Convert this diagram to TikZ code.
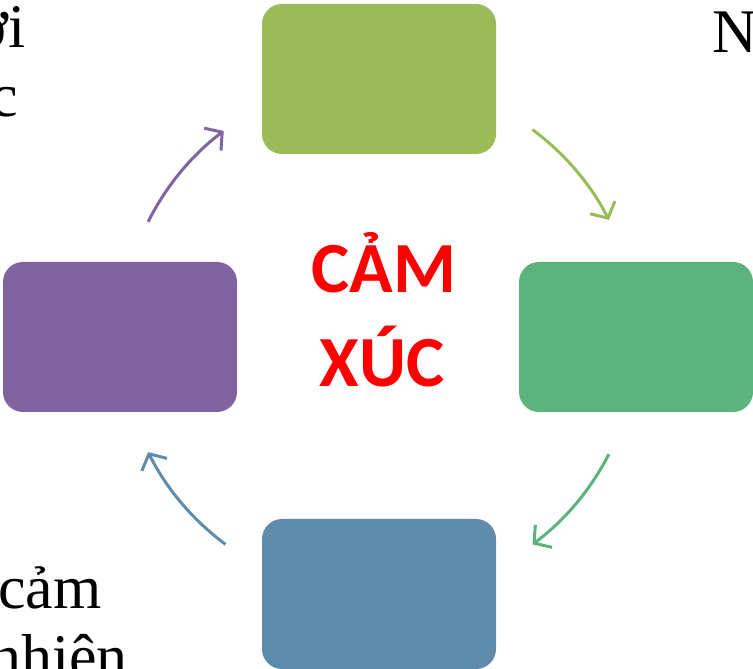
\documentclass[tikz,border=0pt]{standalone}
\usepackage{fontspec}
\usepackage{xcolor}
\usepackage{tikz}
\usetikzlibrary{arrows.meta}
\setmainfont{Liberation Serif}
\newfontfamily\calibfont{Carlito}
\definecolor{olivegr}{HTML}{9BBB59}
\definecolor{seagr}{HTML}{5CB37D}
\definecolor{steelbl}{HTML}{5F8CAD}
\definecolor{violet1}{HTML}{8064A2}

\begin{document}
\begin{tikzpicture}[x=1pt, y=1pt,
        cbox/.style={rectangle, rounded corners=20pt, minimum width=234pt, minimum height=150pt, inner sep=0pt},
        carr/.style={line width=3pt, -{Straight Barb[length=12pt, width=28pt]}},
        edgetxt/.style={font=\fontsize{62}{69}\selectfont, inner sep=0pt}]
        \useasboundingbox (0,0) rectangle (753,669);
        \clip (0,0) rectangle (753,669);
        \coordinate (c) at (379,332);

        % the four steps of the cycle
        \node[cbox, fill=olivegr] (top) at (379,590) {};
        \node[cbox, fill=seagr] (right) at (636,332) {};
        \node[cbox, fill=steelbl] (bottom) at (379,75) {};
        \node[cbox, fill=violet1] (left) at (120,332) {};

        % centre title
        \node[font=\calibfont\bfseries\fontsize{72}{94}\selectfont, text=red, anchor=base] (cam) at (384,376) {CẢM};
        \node[font=\calibfont\bfseries\fontsize{72}{94}\selectfont, text=red, anchor=base] (xuc) at (382,282) {XÚC};

        % arrows round the circle
        \draw[carr, olivegr] ([shift={(53.5:258)}]c) arc[start angle=53.5, end angle=27, radius=258];
        \draw[carr, seagr] ([shift={(-27:258)}]c) arc[start angle=-27, end angle=-53.5, radius=258];
        \draw[carr, steelbl] ([shift={(233.5:258)}]c) arc[start angle=233.5, end angle=206.5, radius=258];
        \draw[carr, violet1] ([shift={(153.5:258)}]c) arc[start angle=153.5, end angle=127, radius=258];

        % text cut off at the edges
        \node[edgetxt, anchor=base east] (t1) at (26,621) {ơi};
        \node[edgetxt, anchor=base east] (t2) at (18,552) {c};
        \node[edgetxt, anchor=base west] (t3) at (712,616) {N};
        \node[edgetxt, anchor=base west] (t4) at (-2,60) {cảm};
        \node[edgetxt, anchor=base west] (t5) at (-10,-9) {nhiên};
\end{tikzpicture}
\end{document}
